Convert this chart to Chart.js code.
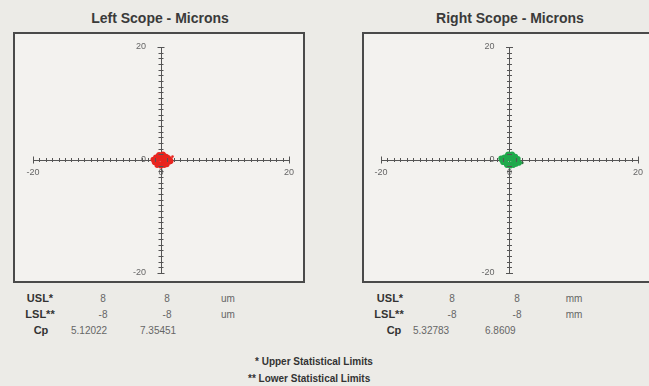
<!DOCTYPE html>
<html>
<head>
<meta charset="utf-8">
<script src="https://cdn.jsdelivr.net/npm/chart.js@4/dist/chart.umd.min.js"></script>
<style>
  html, body { margin: 0; padding: 0; }
  body { width: 649px; height: 386px; overflow: hidden; position: relative;
         background: #ecebe7; font-family: "Liberation Sans", Arial, sans-serif; }
  .title { position: absolute; top: 10px; font-size: 14px; font-weight: bold; color: #3a3a3a;
           transform: translateX(-50%); white-space: nowrap; }
  .box { position: absolute; top: 32px; width: 292px; height: 251px; box-sizing: border-box;
         border: 2px solid #4a4a4a; background: #f3f2ef; }
  .box canvas { position: absolute; left: 0; top: 0; }
  .t { position: absolute; font-size: 10px; color: #666; transform: translate(-50%, -50%);
       white-space: nowrap; }
  .t.lbl { color: #333; font-weight: bold; font-size: 11px; }
  .t.l { transform: translate(0, -50%); }
  .note { position: absolute; font-size: 10px; font-weight: bold; color: #333; white-space: nowrap;
          transform: translateY(-50%); }
</style>
</head>
<body>
<div class="title" style="left:160px">Left Scope - Microns</div>
<div class="title" style="left:510px">Right Scope - Microns</div>

<div class="box" style="left:13px"><canvas id="leftScope"></canvas></div>
<div class="box" style="left:362px"><canvas id="rightScope"></canvas></div>

<div class="t lbl" style="left:40px;top:298px">USL*</div>
<div class="t" style="left:103px;top:298px">8</div>
<div class="t" style="left:167px;top:298px">8</div>
<div class="t" style="left:228px;top:298px">um</div>
<div class="t lbl" style="left:40px;top:314px">LSL**</div>
<div class="t" style="left:103px;top:314px">-8</div>
<div class="t" style="left:167px;top:314px">-8</div>
<div class="t" style="left:228px;top:314px">um</div>
<div class="t lbl" style="left:41px;top:330px">Cp</div>
<div class="t l" style="left:71px;top:330px">5.12022</div>
<div class="t l" style="left:140px;top:330px">7.35451</div>

<div class="t lbl" style="left:390px;top:298px">USL*</div>
<div class="t" style="left:452px;top:298px">8</div>
<div class="t" style="left:517px;top:298px">8</div>
<div class="t" style="left:574px;top:298px">mm</div>
<div class="t lbl" style="left:389px;top:314px">LSL**</div>
<div class="t" style="left:452px;top:314px">-8</div>
<div class="t" style="left:517px;top:314px">-8</div>
<div class="t" style="left:574px;top:314px">mm</div>
<div class="t lbl" style="left:394px;top:330px">Cp</div>
<div class="t l" style="left:413px;top:330px">5.32783</div>
<div class="t l" style="left:485px;top:330px">6.8609</div>

<div class="note" style="left:255px;top:361px">* Upper Statistical Limits</div>
<div class="note" style="left:248px;top:378px">** Lower Statistical Limits</div>

<script>
'use strict';

// axis range and labelled ticks
const axisMin = -20;
const axisMax = 20;
const labelledTicks = [-20, 0, 20];

// left scope readings (microns)
const leftX = [-1.2, -0.8, -0.4, 0.0, 0.4, 0.8, 1.1, 1.4, -1.0, -0.5, 0.1, 0.5, 0.9, 1.3,
    -0.9, -0.3, 0.2, 0.6, 1.0, -0.6, 0.0, 0.5, 0.9, -0.3, 0.3, 1.5, 0.7];
const leftY = [0.1, 0.5, 0.7, 0.8, 0.8, 0.6, 0.4, 0.1, -0.4, -0.6, -0.8, -0.7, -0.5, -0.3,
    0.0, 0.3, 0.1, -0.1, 0.0, -0.9, -1.0, -0.9, -0.8, 0.9, 1.0, -0.2, 0.3];
const leftOutX = [1.8];
const leftOutY = [0.6];

// right scope readings (microns)
const rightX = [-1.2, -0.8, -0.3, 0.1, 0.5, 0.9, 1.3, -1.0, -0.5, 0.0, 0.4, 0.8, 1.2,
    -0.7, -0.1, 0.3, 0.7, 1.1, -0.4, 0.1, 0.6, 1.0, -0.2, 0.4, 1.5, -1.3];
const rightY = [0.0, 0.5, 0.8, 0.9, 0.8, 0.6, 0.2, -0.4, -0.6, -0.8, -0.7, -0.6, -0.3,
    0.2, 0.3, 0.2, 0.1, 0.0, -0.9, -1.0, -0.9, -0.7, 1.0, 1.0, -0.5, 0.3];
const rightOutX = [2.0];
const rightOutY = [-0.5];

function toPoints(xs, ys) {
    return xs.map(function (x, i) { return {x: x, y: ys[i]}; });
}

// draws the little cross marks on both sides of each axis
const crossTicks = {
    id: 'crossTicks',
    afterDraw: function (chart) {
        const ctx = chart.ctx;
        const xs = chart.scales.x, ys = chart.scales.y;
        const x0 = xs.getPixelForValue(0), y0 = ys.getPixelForValue(0);
        ctx.save();
        ctx.strokeStyle = '#555';
        ctx.lineWidth = 1;
        ctx.beginPath();
        xs.ticks.forEach(function (t, i) {
            if (t.value === 0) return;
            const px = Math.round(xs.getPixelForTick(i)) + 0.5;
            const len = (t.value === axisMin || t.value === axisMax) ? 3.5 : 2;
            ctx.moveTo(px, y0 - len);
            ctx.lineTo(px, y0 + len);
        });
        ys.ticks.forEach(function (t, i) {
            if (t.value === 0) return;
            const py = Math.round(ys.getPixelForTick(i)) + 0.5;
            const len = (t.value === axisMin || t.value === axisMax) ? 3.5 : 2.5;
            ctx.moveTo(x0 - len, py);
            ctx.lineTo(x0 + len, py);
        });
        ctx.stroke();
        ctx.restore();
    },
};

function scopeAxis(pos, suffix, pad) {
    return {
        type: 'linear',
        position: pos,
        min: axisMin,
        max: axisMax,
        grid: {display: true, drawOnChartArea: false, drawTicks: false},
        border: {display: true, color: '#555', width: 1},
        ticks: {
            stepSize: 1,
            autoSkip: false,
            maxRotation: 0,
            padding: pad,
            color: '#666',
            font: {family: 'Liberation Sans Narrow, Liberation Sans, sans-serif', size: 9},
            callback: function (v) {
                return labelledTicks.indexOf(v) >= 0 ? String(v) + suffix : '';
            },
        },
    };
}

function makeScope(id, datasets, pad) {
    const canvas = document.getElementById(id);
    canvas.width = 288;
    canvas.height = 247;
    canvas.style.width = '288px';
    canvas.style.height = '247px';
    return new Chart(canvas.getContext('2d'), {
        type: 'scatter',
        data: {datasets: datasets},
        options: {
            responsive: false,
            animation: false,
            layout: {padding: pad},
            plugins: {legend: {display: false}, tooltip: {enabled: false}},
            scales: {
                x: scopeAxis({y: 0}, '', 7),
                y: scopeAxis({x: 0}, '      ', 0),
            },
        },
        plugins: [crossTicks],
    });
}

makeScope('leftScope', [
    {data: toPoints(leftX, leftY), backgroundColor: '#e8251f', borderWidth: 0, pointRadius: 2.8},
    {data: toPoints(leftOutX, leftOutY), backgroundColor: '#e8251f', borderWidth: 0, pointRadius: 1.3},
], {left: 18, right: 14, top: 13, bottom: 8});

makeScope('rightScope', [
    {data: toPoints(rightX, rightY), backgroundColor: '#1fa94b', borderWidth: 0, pointRadius: 2.8},
    {data: toPoints(rightOutX, rightOutY), backgroundColor: '#2e6b3e', borderWidth: 0, pointRadius: 1.3},
], {left: 17, right: 14, top: 13, bottom: 8});
</script>
</body>
</html>
